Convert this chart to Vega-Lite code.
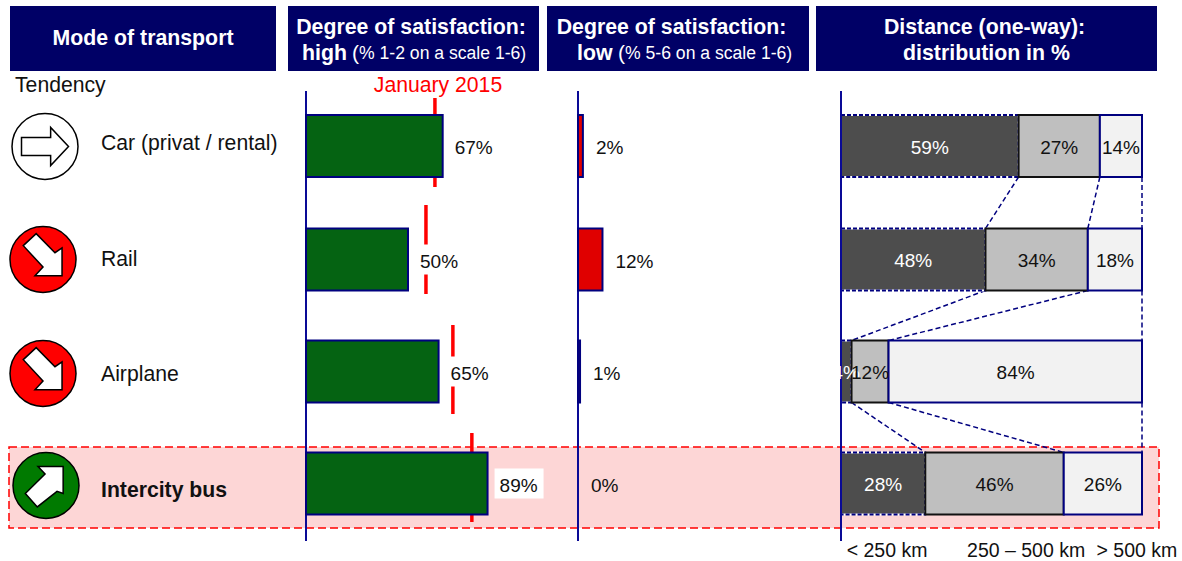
{
"$schema":"https://vega.github.io/schema/vega-lite/v6.json",
"width":1182,"height":561,"padding":0,"autosize":{"type":"none"},
"background":"white",
"config":{"axis":{"disable":true},"legend":{"disable":true},"view":{"stroke":null},"text":{"font":"Liberation Sans","fontSize":19,"baseline":"middle","color":"#111111"}},
"datasets":{
"modes":[
{"mode":"Car (privat / rental)","row":0,"tendency":"flat","high":0.67,"january":0.632,"low":0.024},
{"mode":"Rail","row":1,"tendency":"down","high":0.50,"january":0.588,"low":0.12},
{"mode":"Airplane","row":2,"tendency":"down","high":0.65,"january":0.72,"low":0.01},
{"mode":"Intercity bus","row":3,"tendency":"up","high":0.89,"january":0.813,"low":0}
],
"segments":[
{"row":0,"band":"< 250 km","start":0,"end":0.59,"middle":0.295,"share":0.59},
{"row":0,"band":"250 – 500 km","start":0.59,"end":0.86,"middle":0.725,"share":0.27},
{"row":0,"band":"> 500 km","start":0.86,"end":1,"middle":0.93,"share":0.14},
{"row":1,"band":"< 250 km","start":0,"end":0.48,"middle":0.24,"share":0.48},
{"row":1,"band":"250 – 500 km","start":0.48,"end":0.82,"middle":0.65,"share":0.34},
{"row":1,"band":"> 500 km","start":0.82,"end":1,"middle":0.91,"share":0.18},
{"row":2,"band":"< 250 km","start":0,"end":0.035,"middle":0.0175,"share":0.04},
{"row":2,"band":"250 – 500 km","start":0.035,"end":0.158,"middle":0.0965,"share":0.12},
{"row":2,"band":"> 500 km","start":0.158,"end":1,"middle":0.58,"share":0.84},
{"row":3,"band":"< 250 km","start":0,"end":0.28,"middle":0.14,"share":0.28},
{"row":3,"band":"250 – 500 km","start":0.28,"end":0.74,"middle":0.51,"share":0.46},
{"row":3,"band":"> 500 km","start":0.74,"end":1,"middle":0.87,"share":0.26}
],
"links":[
{"rowA":0,"rowB":1,"a":0.59,"b":0.48},{"rowA":0,"rowB":1,"a":0.86,"b":0.82},{"rowA":0,"rowB":1,"a":1,"b":1},
{"rowA":1,"rowB":2,"a":0.48,"b":0.035},{"rowA":1,"rowB":2,"a":0.82,"b":0.158},{"rowA":1,"rowB":2,"a":1,"b":1},
{"rowA":2,"rowB":3,"a":0.035,"b":0.28},{"rowA":2,"rowB":3,"a":0.158,"b":0.74},{"rowA":2,"rowB":3,"a":1,"b":1}
],
"baseline":[{"from":0,"to":3}],
"headerMode":[{"column":"Mode of transport","row":-1}],
"headerHigh":[{"column":"high","row":-1,"title":"Degree of satisfaction:","paren":"(","note":"% 1-2 on a scale 1-6)"}],
"headerLow":[{"column":"low","row":-1,"title":"Degree of satisfaction:","paren":"(","note":"% 5-6 on a scale 1-6)"}],
"headerDist":[{"column":"distance","row":-1,"title":"Distance (one-way):","sub":"distribution in %"}],
"january":[{"label":"January 2015","row":0,"at":0.647}],
"bands":[{"band":"< 250 km","row":3,"centre":0.153},{"band":"250 – 500 km","row":3,"centre":0.615},{"band":"> 500 km","row":3,"centre":0.983}],
"highlight":[{"mode":"Intercity bus"}],
"tendencyLabel":[{"column":"Mode of transport","row":-1,"label":"Tendency"}]
},
"resolve":{"scale":{"x":"independent","y":"independent","fill":"independent","stroke":"independent","color":"independent"}},
"layer":[
{"data":{"name":"highlight"},"mark":{"type":"rect","fill":"#fdd6d6","stroke":"#ff0000","strokeWidth":1.5,"strokeDash":[8,4]},
 "encoding":{"x":{"field":"mode","type":"nominal","scale":{"type":"band","domain":["Intercity bus"],"range":[9,1159],"paddingInner":0,"paddingOuter":0}},
 "y":{"field":"mode","type":"nominal","scale":{"type":"band","domain":["Intercity bus"],"range":[447,528],"paddingInner":0,"paddingOuter":0}}}},
{"data":{"name":"modes"},"mark":{"type":"rule","color":"#ff0000","strokeWidth":3.5,"yOffset":-47,"y2Offset":42},
 "encoding":{"x":{"field":"january","type":"quantitative","scale":{"domain":[0,1],"range":[306,510],"nice":false}},
 "y":{"field":"row","type":"quantitative","scale":{"domain":[0,1,2,3],"range":[145,252,372,480],"nice":false,"zero":false}},
 "y2":{"field":"row"}}},
{"resolve":{"scale":{"x":"independent"}},
 "layer":[
 {"data":{"name":"headerMode"},
  "encoding":{"x":{"field":"column","type":"nominal","scale":{"type":"band","domain":["Mode of transport"],"range":[10,276],"paddingInner":0,"paddingOuter":0}},
   "y":{"field":"row","type":"quantitative","scale":{"domain":[-1,0,1,2,3],"range":[38.5,146,259.5,371.5,483.5],"nice":false,"zero":false}}},
  "layer":[
  {"mark":{"type":"rect","fill":"#000066","yOffset":-32.5,"y2Offset":32.5},"encoding":{"y2":{"field":"row"}}},
  {"mark":{"type":"text","color":"white","fontWeight":"bold","fontSize":21.3},"encoding":{"text":{"field":"column"}}}
  ]},
 {"data":{"name":"headerHigh"},
  "encoding":{"x":{"field":"column","type":"nominal","scale":{"type":"band","domain":["high"],"range":[288,539],"paddingInner":0,"paddingOuter":0}},
   "y":{"field":"row","type":"quantitative"}},
  "layer":[
  {"mark":{"type":"rect","fill":"#000066","yOffset":-32.5,"y2Offset":32.5},"encoding":{"y2":{"field":"row"}}},
  {"mark":{"type":"text","color":"white","fontWeight":"bold","fontSize":21.3,"dx":-2.5,"dy":-10.5},"encoding":{"text":{"field":"title"}}},
  {"mark":{"type":"text","color":"white","fontWeight":"bold","fontSize":21.3,"align":"left","dx":14,"dy":15},"encoding":{"x":{"field":"column","type":"nominal","bandPosition":0},"text":{"field":"column"}}},
  {"mark":{"type":"text","color":"white","fontSize":21,"align":"left","dx":64,"dy":15},"encoding":{"x":{"field":"column","type":"nominal","bandPosition":0},"text":{"field":"paren"}}},
  {"mark":{"type":"text","color":"white","fontSize":17.6,"align":"left","dx":71,"dy":15.5},"encoding":{"x":{"field":"column","type":"nominal","bandPosition":0},"text":{"field":"note"}}}
  ]},
 {"data":{"name":"headerLow"},
  "encoding":{"x":{"field":"column","type":"nominal","scale":{"type":"band","domain":["low"],"range":[547,809],"paddingInner":0,"paddingOuter":0}},
   "y":{"field":"row","type":"quantitative"}},
  "layer":[
  {"mark":{"type":"rect","fill":"#000066","yOffset":-32.5,"y2Offset":32.5},"encoding":{"y2":{"field":"row"}}},
  {"mark":{"type":"text","color":"white","fontWeight":"bold","fontSize":21.3,"dx":-6.5,"dy":-10.5},"encoding":{"text":{"field":"title"}}},
  {"mark":{"type":"text","color":"white","fontWeight":"bold","fontSize":21.3,"align":"left","dx":30,"dy":15},"encoding":{"x":{"field":"column","type":"nominal","bandPosition":0},"text":{"field":"column"}}},
  {"mark":{"type":"text","color":"white","fontSize":21,"align":"left","dx":71,"dy":15},"encoding":{"x":{"field":"column","type":"nominal","bandPosition":0},"text":{"field":"paren"}}},
  {"mark":{"type":"text","color":"white","fontSize":17.6,"align":"left","dx":78,"dy":15.5},"encoding":{"x":{"field":"column","type":"nominal","bandPosition":0},"text":{"field":"note"}}}
  ]},
 {"data":{"name":"headerDist"},
  "encoding":{"x":{"field":"column","type":"nominal","scale":{"type":"band","domain":["distance"],"range":[816,1157],"paddingInner":0,"paddingOuter":0}},
   "y":{"field":"row","type":"quantitative"}},
  "layer":[
  {"mark":{"type":"rect","fill":"#000066","yOffset":-32.5,"y2Offset":32.5},"encoding":{"y2":{"field":"row"}}},
  {"mark":{"type":"text","color":"white","fontWeight":"bold","fontSize":21.3,"dx":-2,"dy":-10.5},"encoding":{"text":{"field":"title"}}},
  {"mark":{"type":"text","color":"white","fontWeight":"bold","fontSize":21.3,"dy":15},"encoding":{"text":{"field":"sub"}}}
  ]},
 {"layer":[
  {"data":{"name":"baseline"},"mark":{"type":"rule","color":"#0a0a96","strokeWidth":2,"yOffset":-55,"y2Offset":57.5},
   "encoding":{"x":{"datum":0,"type":"quantitative","scale":{"domain":[0,1],"range":[306,510],"nice":false}},"y":{"field":"from","type":"quantitative"},"y2":{"field":"to"}}},
  {"data":{"name":"modes"},"mark":{"type":"rect","fill":"#056312","stroke":"#00007f","strokeWidth":2,"yOffset":-31,"y2Offset":31},
   "encoding":{"x":{"field":"high","type":"quantitative"},"x2":{"datum":0},"y":{"field":"row","type":"quantitative"},"y2":{"field":"row"}}},
  {"data":{"name":"modes"},"mark":{"type":"rect","fill":"white","xOffset":7,"x2Offset":56,"yOffset":-15,"y2Offset":15},
   "encoding":{"x":{"field":"high","type":"quantitative"},"x2":{"field":"high"},"y":{"field":"row","type":"quantitative"},"y2":{"field":"row"}}},
  {"data":{"name":"modes"},"mark":{"type":"text","align":"left","dx":12,"dy":2},
   "encoding":{"x":{"field":"high","type":"quantitative"},"y":{"field":"row","type":"quantitative"},"text":{"field":"high","format":".0%"}}},
  {"data":{"name":"january"},"mark":{"type":"text","color":"#ff0000","fontSize":21.2,"dy":-60.5},
   "encoding":{"x":{"field":"at","type":"quantitative"},"y":{"field":"row","type":"quantitative"},"text":{"field":"label"}}}
  ]},
 {"layer":[
  {"data":{"name":"baseline"},"mark":{"type":"rule","color":"#0a0a96","strokeWidth":2,"yOffset":-55,"y2Offset":57.5},
   "encoding":{"x":{"datum":0,"type":"quantitative","scale":{"domain":[0,1],"range":[578,782],"nice":false}},"y":{"field":"from","type":"quantitative"},"y2":{"field":"to"}}},
  {"data":{"name":"modes"},"transform":[{"filter":"datum.low > 0"}],"mark":{"type":"rect","fill":"#e00000","stroke":"#00007f","strokeWidth":2,"yOffset":-31,"y2Offset":31},
   "encoding":{"x":{"field":"low","type":"quantitative"},"x2":{"datum":0},"y":{"field":"row","type":"quantitative"},"y2":{"field":"row"}}},
  {"data":{"name":"modes"},"mark":{"type":"text","align":"left","dx":13,"dy":2},
   "encoding":{"x":{"field":"low","type":"quantitative"},"y":{"field":"row","type":"quantitative"},"text":{"field":"low","format":".0%"}}}
  ]},
 {"layer":[
  {"data":{"name":"links"},"mark":{"type":"rule","color":"#00007f","strokeWidth":1.5,"strokeDash":[5,3],"yOffset":31,"y2Offset":-31},
   "encoding":{"x":{"field":"a","type":"quantitative","scale":{"domain":[0,1],"range":[841,1142],"nice":false}},"x2":{"field":"b"},"y":{"field":"rowA","type":"quantitative"},"y2":{"field":"rowB"}}},
  {"data":{"name":"segments"},"transform":[{"filter":"datum.start == 0"}],"mark":{"type":"rect","fill":"#4d4d4d","stroke":"#ffffff","strokeWidth":2,"yOffset":-31,"y2Offset":31},
   "encoding":{"x":{"field":"start","type":"quantitative"},"x2":{"field":"end"},"y":{"field":"row","type":"quantitative"},"y2":{"field":"row"}}},
  {"data":{"name":"segments"},"transform":[{"filter":"datum.start == 0"}],"mark":{"type":"rect","fillOpacity":0,"stroke":"#00007f","strokeWidth":2,"strokeDash":[4,2],"yOffset":-31,"y2Offset":31},
   "encoding":{"x":{"field":"start","type":"quantitative"},"x2":{"field":"end"},"y":{"field":"row","type":"quantitative"},"y2":{"field":"row"}}},
  {"data":{"name":"segments"},"transform":[{"filter":"datum.start > 0"}],"mark":{"type":"rect","strokeWidth":2,"yOffset":-31,"y2Offset":31},
   "encoding":{"x":{"field":"start","type":"quantitative"},"x2":{"field":"end"},"y":{"field":"row","type":"quantitative"},"y2":{"field":"row"},
    "fill":{"field":"band","type":"nominal","scale":{"domain":["< 250 km","250 – 500 km","> 500 km"],"range":["#4d4d4d","#bfbfbf","#f2f2f2"]}},
    "stroke":{"field":"band","type":"nominal","scale":{"domain":["< 250 km","250 – 500 km","> 500 km"],"range":["#00007f","#111111","#00007f"]}}}},
  {"data":{"name":"baseline"},"mark":{"type":"rule","color":"#0a0a96","strokeWidth":2,"yOffset":-55,"y2Offset":57.5},
   "encoding":{"x":{"datum":0,"type":"quantitative"},"y":{"field":"from","type":"quantitative"},"y2":{"field":"to"}}},
  {"data":{"name":"segments"},"mark":{"type":"text","dy":1.5},
   "encoding":{"x":{"field":"middle","type":"quantitative"},"y":{"field":"row","type":"quantitative"},"text":{"field":"share","format":".0%"},
    "color":{"field":"band","type":"nominal","scale":{"domain":["< 250 km","250 – 500 km","> 500 km"],"range":["#ffffff","#111111","#111111"]}}}},
  {"data":{"name":"bands"},"mark":{"type":"text","fontSize":19.5,"dy":67.5},
   "encoding":{"x":{"field":"centre","type":"quantitative"},"y":{"field":"row","type":"quantitative"},"text":{"field":"band"}}}
  ]}
 ]},
{"data":{"name":"modes"},
 "encoding":{"x":{"field":"row","type":"quantitative","scale":{"domain":[0,1,2,3],"range":[45,43,43,46],"nice":false,"zero":false}},
  "y":{"field":"row","type":"quantitative","scale":{"domain":[0,1,2,3],"range":[146.5,259.5,373.5,485.5],"nice":false,"zero":false}}},
 "layer":[
 {"mark":{"type":"point","shape":"circle","filled":true,"stroke":"#000000","strokeWidth":1.5,"opacity":1,"size":4356},
  "encoding":{"fill":{"field":"tendency","type":"nominal","scale":{"domain":["flat","down","up"],"range":["#ffffff","#ff0000","#007a00"]}}}},
 {"mark":{"type":"point","filled":true,"fill":"#ffffff","stroke":"#000000","strokeWidth":1.5,"opacity":1,"size":2209},
  "encoding":{"shape":{"field":"tendency","type":"nominal","scale":{"domain":["flat","down","up"],"range":["M-1,-0.38L0.24,-0.38L0.24,-0.81L1,0L0.24,0.81L0.24,0.38L-1,0.38Z","M-0.84,-0.59L-0.29,-1.1L0.51,-0.29L0.81,-0.49L0.81,0.69L-0.34,0.69L0,0.32Z","M-0.88,0.34L-0.37,0.91L0.47,0.25L0.73,0.34L0.73,-0.81L-0.34,-0.81L-0.04,-0.49Z"]}}}}
 ]},
{"encoding":{"x":{"datum":"Mode of transport","type":"nominal","bandPosition":0,"scale":{"type":"band","domain":["Mode of transport"],"range":[10,276],"paddingInner":0,"paddingOuter":0}},
  "y":{"field":"row","type":"quantitative","scale":{"domain":[-1,0,1,2,3],"range":[86,144,260,375,491],"nice":false,"zero":false}}},
 "layer":[
 {"data":{"name":"tendencyLabel"},"mark":{"type":"text","align":"left","fontSize":21.2,"dx":5},"encoding":{"text":{"field":"label"}}},
 {"data":{"name":"modes"},"transform":[{"filter":"datum.tendency != 'up'"}],"mark":{"type":"text","align":"left","fontSize":21.2,"dx":91},"encoding":{"text":{"field":"mode"}}},
 {"data":{"name":"modes"},"transform":[{"filter":"datum.tendency == 'up'"}],"mark":{"type":"text","align":"left","fontSize":21.2,"fontWeight":"bold","dx":91},"encoding":{"text":{"field":"mode"}}}
 ]}
]
}
